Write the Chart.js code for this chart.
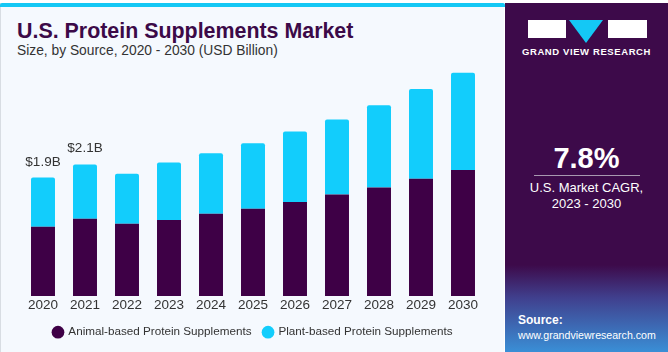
<!DOCTYPE html>
<html>
<head>
<meta charset="utf-8">
<script src="https://cdn.jsdelivr.net/npm/chart.js@4"></script>
<style>
  html, body { margin: 0; padding: 0; background: #fff; }
  body { width: 668px; height: 352px; position: relative; overflow: hidden; font-family: "Liberation Sans", Arial, sans-serif; }
  #left { position: absolute; left: 0; top: 3px; width: 504px; height: 349px; background: #f5f9fe; border-left: 1px solid #d8dde3; box-sizing: border-box; }
  #strip { position: absolute; left: 0; top: 3px; width: 505px; height: 4px; background: #14c8f5; border-radius: 2px 2px 0 0; }
  #title { position: absolute; left: 17px; top: 19px; font-size: 21.4px; font-weight: bold; color: #3c0a48; }
  #sub { position: absolute; left: 17px; top: 43px; font-size: 13.8px; color: #333; }
  #wrap { position: absolute; left: 0; top: 0; width: 505px; height: 352px; }
  #right { position: absolute; left: 505px; top: 3px; width: 163px; height: 349px;
           background: linear-gradient(to bottom, #3d0a4a 0px, #3d0a4a 262px, #40408e 295px, #3a8fd6 349px); }
  .logo { position: absolute; top: 20px; height: 18px; background: #fff; }
  #tri { position: absolute; left: 569px; top: 20px; width: 0; height: 0; border-left: 17px solid transparent; border-right: 17px solid transparent; border-top: 23px solid #14c8f5; }
  #gvr { position: absolute; left: 505px; width: 163px; top: 46px; text-align: center; color: #fff; font-size: 9.5px; font-weight: bold; letter-spacing: 0.6px; }
  #cagr { position: absolute; left: 505px; width: 163px; top: 142px; text-align: center; color: #fff; font-size: 29px; font-weight: bold; }
  #line { position: absolute; left: 534px; top: 175px; width: 106px; height: 1px; background: #a898b0; }
  #cagrtxt { position: absolute; left: 505px; width: 163px; top: 180px; text-align: center; color: #fff; font-size: 13px; line-height: 16px; }
  #src { position: absolute; left: 518px; top: 313px; color: #fff; font-size: 10.6px; line-height: 15px; }
</style>
</head>
<body>
<div id="left"></div>
<div id="strip"></div>
<div id="title">U.S. Protein Supplements Market</div>
<div id="sub">Size, by Source, 2020 - 2030 (USD Billion)</div>
<div id="wrap"><canvas id="chart"></canvas></div>
<div id="right"></div>
<div class="logo" style="left:528px;width:38px;"></div>
<div id="tri"></div>
<div class="logo" style="left:608px;width:39px;"></div>
<div id="gvr">GRAND VIEW RESEARCH</div>
<div id="cagr">7.8%</div>
<div id="line"></div>
<div id="cagrtxt">U.S. Market CAGR,<br>2023 - 2030</div>
<div id="src"><b style="font-size:12px">Source:</b><br>www.grandviewresearch.com</div>
<script>
const years = ["2020","2021","2022","2023","2024","2025","2026","2027","2028","2029","2030"];
const animalBased = [1.11, 1.24, 1.16, 1.22, 1.32, 1.40, 1.51, 1.63, 1.74, 1.88, 2.02];
const plantBased = [0.79, 0.87, 0.80, 0.92, 0.97, 1.05, 1.13, 1.20, 1.32, 1.44, 1.56];
const topLabels = ["$1.9B", "$2.1B"];

const topLabelPlugin = {
  id: 'topLabels',
  afterDatasetsDraw(chart) {
    const ctx = chart.ctx;
    const meta = chart.getDatasetMeta(1);
    ctx.save();
    ctx.font = '13.5px "Liberation Sans", Arial, sans-serif';
    ctx.fillStyle = '#333';
    ctx.textAlign = 'center';
    ctx.textBaseline = 'bottom';
    topLabels.forEach((t, i) => {
      const bar = meta.data[i];
      ctx.fillText(t, bar.x, bar.y - 9);
    });
    ctx.restore();
  }
};

new Chart(document.getElementById('chart'), {
  type: 'bar',
  data: {
    labels: years,
    datasets: [
      {
        label: "Animal-based Protein Supplements",
        data: animalBased,
        backgroundColor: "#3e0046",
        borderRadius: 1,
        borderSkipped: false
      },
      {
        label: "Plant-based Protein Supplements",
        data: plantBased,
        backgroundColor: "#12cdfc",
        borderRadius: { topLeft: 2, topRight: 2 },
        borderSkipped: 'bottom'
      }
    ]
  },
  options: {
    responsive: true,
    maintainAspectRatio: false,
    animation: false,
    layout: { padding: { left: 22, right: 21, top: 59, bottom: 4 } },
    datasets: { bar: { barPercentage: 0.571, categoryPercentage: 1 } },
    scales: {
      x: {
        stacked: true,
        grid: { display: false, drawTicks: false },
        border: { display: false },
        ticks: { color: '#333', font: { size: 13.5, family: '"Liberation Sans", Arial, sans-serif' }, padding: 1 }
      },
      y: {
        stacked: true,
        display: false,
        min: 0,
        max: 3.8
      }
    },
    plugins: {
      legend: {
        position: 'bottom',
        labels: {
          usePointStyle: true,
          pointStyle: 'circle',
          boxWidth: 9,
          boxHeight: 9,
          padding: 12,
          color: '#333',
          font: { size: 11.7, family: '"Liberation Sans", Arial, sans-serif' }
        }
      },
      tooltip: { enabled: false }
    }
  },
  plugins: [topLabelPlugin]
});
</script>
</body>
</html>
